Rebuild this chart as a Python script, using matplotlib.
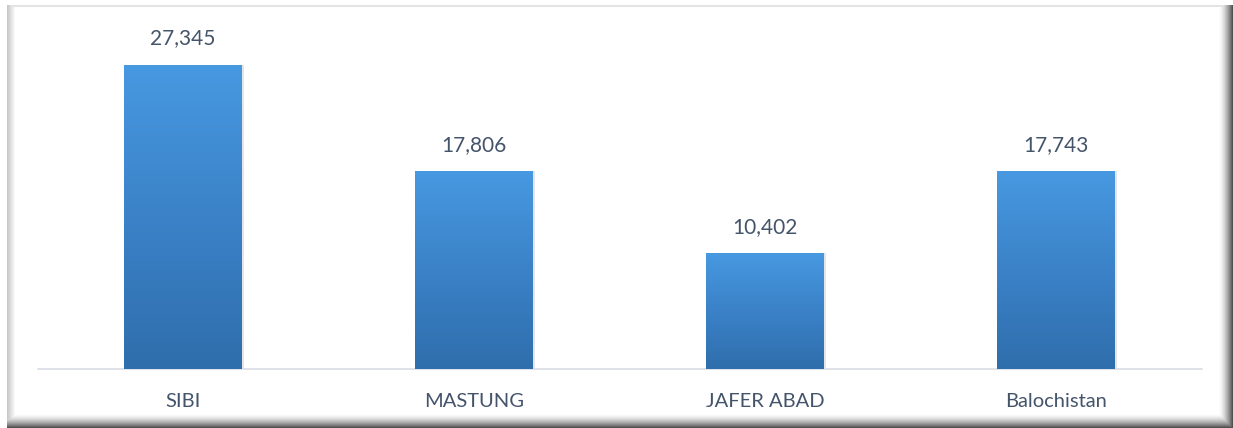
import numpy as np
import matplotlib.pyplot as plt
from matplotlib.patches import Rectangle
from matplotlib.colors import LinearSegmentedColormap

categories = ['SIBI', 'MASTUNG', 'JAFER ABAD', 'Balochistan']
values = [27345, 17806, 10402, 17743]

plt.rcParams['font.family'] = ['Lato', 'DejaVu Sans']
text_color = '#44546A'

W, H = 1233, 428
fig = plt.figure(figsize=(W / 100, H / 100), dpi=100)

# background frame: light top/left edge, dark bevel on right/bottom
bg = np.ones((H, W))
bg[5:7, 7:] = 0.89
for i in range(8):
    bg[5:, 7 + i] = np.minimum(bg[5:, 7 + i], 0.78 + 0.22 * i / 8)
for i in range(15):
    shade = 1.0 - 0.68 * (i / 14) ** 1.6
    bg[5:, W - 15 + i] = np.minimum(bg[5:, W - 15 + i], shade)
    bg[H - 15 + i, 7:] = np.minimum(bg[H - 15 + i, 7:], shade)
bax = fig.add_axes([0, 0, 1, 1])
bax.imshow(bg, cmap='gray', vmin=0, vmax=1, aspect='auto', interpolation='nearest')
bax.axis('off')

ax = fig.add_axes([37.5 / W, (H - 369) / H, 1164.5 / W, 334 / H])
ax.patch.set_alpha(0)

x = np.arange(len(categories))
bars = ax.bar(x, values, width=0.405, color='#3f88d2', zorder=2)

grad = np.linspace(0, 1, 256).reshape(-1, 1)
cmap = LinearSegmentedColormap.from_list('g', ['#2f6eac', '#3b82c8', '#4799e1'])
for b in bars:
    bx, by = b.get_x(), b.get_y()
    w, h = b.get_width(), b.get_height()
    ax.add_patch(Rectangle((bx + 0.006, by), w, h, facecolor='#000000', alpha=0.10,
                           edgecolor='none', zorder=1))
    im = ax.imshow(grad, extent=[bx, bx + w, by, by + h], origin='lower',
                   cmap=cmap, aspect='auto', zorder=3)
    im.set_clip_path(b)

for xi, v in zip(x, values):
    ax.text(xi, v + 1450, f'{v:,}', ha='center', va='bottom', fontsize=15,
            color=text_color)

ax.set_xlim(-0.5, len(categories) - 0.5)
ax.set_ylim(0, 30000)
ax.set_yticks([])
ax.set_xticks(x)
ax.set_xticklabels(categories, fontsize=14.5, color=text_color)
ax.tick_params(axis='x', length=0, pad=17)
for s in ['top', 'right', 'left']:
    ax.spines[s].set_visible(False)
ax.spines['bottom'].set_color('#d9dee5')
ax.spines['bottom'].set_linewidth(1.2)

fig.savefig('out.png', dpi=100)
